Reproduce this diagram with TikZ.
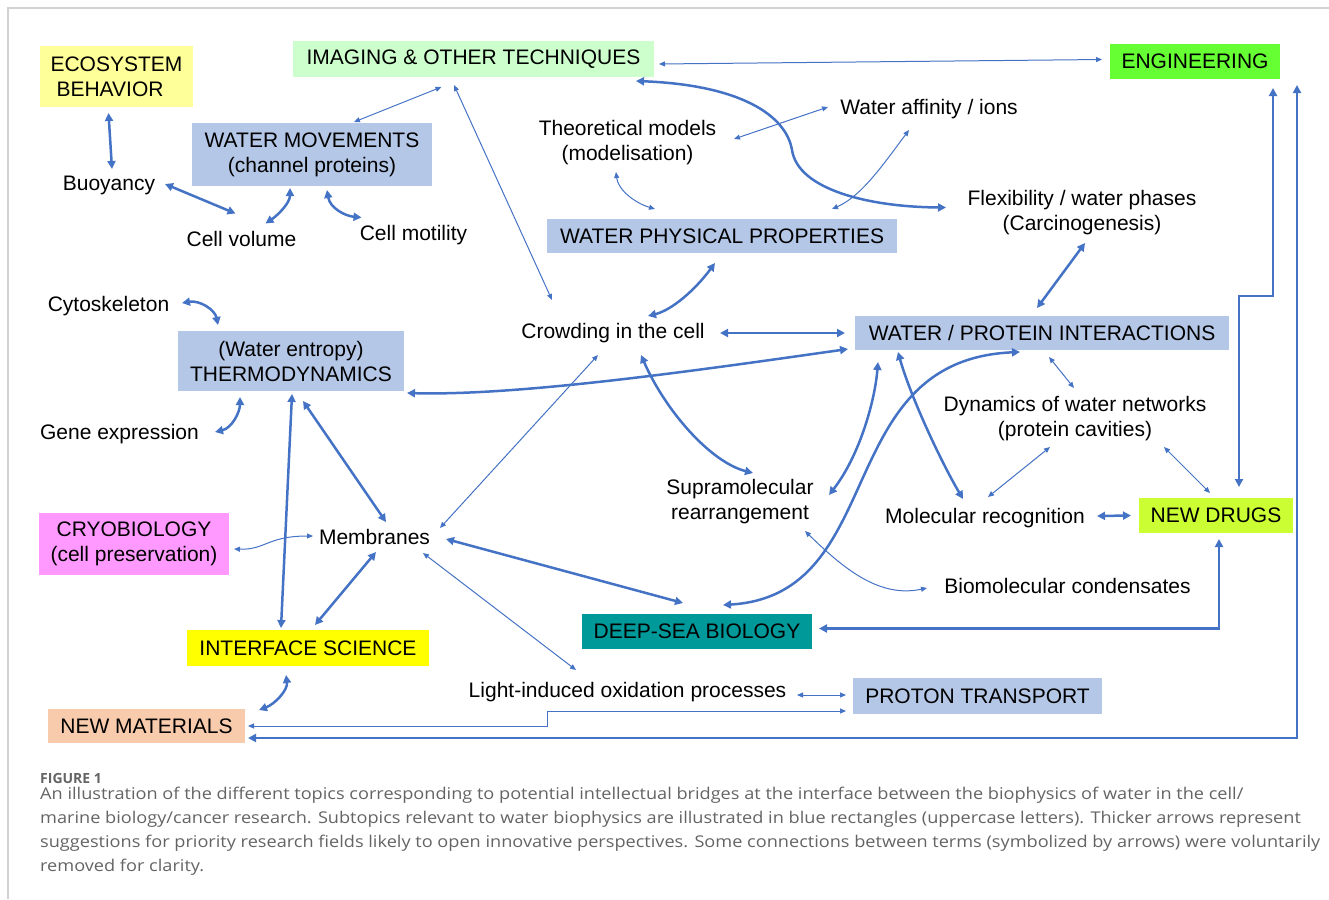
\documentclass[tikz,border=0pt]{standalone}
\usepackage{fontspec}
\setmainfont{Liberation Sans}
\newfontfamily\captionfont{Open Sans}
\newfontfamily\captionwide[FakeStretch=1.12]{Open Sans}
\usetikzlibrary{arrows.meta,calc}
\definecolor{arrowblue}{RGB}{68,114,196}
\definecolor{boxblue}{RGB}{180,199,231}
\definecolor{ecoyellow}{RGB}{255,255,153}
\definecolor{imggreen}{RGB}{204,255,204}
\definecolor{enggreen}{RGB}{102,255,51}
\definecolor{drugsgreen}{RGB}{204,255,51}
\definecolor{cryopink}{RGB}{255,153,255}
\definecolor{seateal}{RGB}{0,153,153}
\definecolor{ifyellow}{RGB}{255,255,0}
\definecolor{matorange}{RGB}{248,203,173}
\definecolor{framegray}{RGB}{210,210,210}
\definecolor{captiongray}{RGB}{100,100,100}
\begin{document}
\begin{tikzpicture}[x=1pt,y=-1pt,
  every node/.style={font=\fontsize{21}{25}\selectfont, inner sep=0pt},
  lbl/.style={text height=15pt, text depth=4pt},
  lbl2/.style={align=center},
  topic/.style={fill=boxblue, align=center},
  fat/.style={draw=arrowblue, line width=2.5pt,
    {Triangle[length=8pt,width=8pt]}-{Triangle[length=8pt,width=8pt]}},
  slim/.style={draw=arrowblue, line width=1pt,
    {Triangle[length=6pt,width=5pt]}-{Triangle[length=6pt,width=5pt]}},
  captext/.style={font=\captionwide\fontsize{16.2}{24}\selectfont, text=captiongray, anchor=base west}]
  \useasboundingbox (0,0) rectangle (1329,899);

  % Draw frame of the figure
  \draw[framegray, line width=1.5pt] (1329,8) -- (8,8) -- (8,899);

  % Draw topic boxes
  \node[topic, fill=ecoyellow, minimum width=153pt, minimum height=61pt, align=left] (eco) at (116.5,76.5) {ECOSYSTEM\\\hspace*{6pt}BEHAVIOR};
  \node[topic, fill=imggreen, minimum width=361pt, minimum height=36pt] (imaging) at (473.5,59) {IMAGING \& OTHER TECHNIQUES};
  \node[topic, fill=enggreen, minimum width=170pt, minimum height=35pt] (eng) at (1195,61.5) {ENGINEERING};
  \node[topic, minimum width=240pt, minimum height=63pt] (wm) at (312,154.5) {WATER MOVEMENTS\\(channel proteins)};
  \node[topic, minimum width=350pt, minimum height=34pt] (wpp) at (722,236) {WATER PHYSICAL PROPERTIES};
  \node[topic, minimum width=374pt, minimum height=34pt] (wpi) at (1042,333) {WATER / PROTEIN INTERACTIONS};
  \node[topic, minimum width=226pt, minimum height=60pt] (thermo) at (291,361) {(Water entropy)\\THERMODYNAMICS};
  \node[topic, fill=drugsgreen, minimum width=154pt, minimum height=35pt] (drugs) at (1216,515.5) {NEW DRUGS};
  \node[topic, fill=cryopink, minimum width=190pt, minimum height=62pt] (cryo) at (134,544) {CRYOBIOLOGY\\(cell preservation)};
  \node[topic, fill=seateal, minimum width=230pt, minimum height=35pt] (deepsea) at (697,631.5) {DEEP-SEA BIOLOGY};
  \node[topic, fill=ifyellow, minimum width=242pt, minimum height=36pt] (iface) at (308,648) {INTERFACE SCIENCE};
  \node[topic, minimum width=249pt, minimum height=36pt] (proton) at (977.5,696) {PROTON TRANSPORT};
  \node[topic, fill=matorange, minimum width=197pt, minimum height=34pt] (newmat) at (146.5,726) {NEW MATERIALS};

  % Draw plain subtopics
  \node[lbl] (buoy) at (109,185) {Buoyancy};
  \node[lbl] (cellvol) at (241.5,241) {Cell volume};
  \node[lbl] (motil) at (413.5,235) {Cell motility};
  \node[lbl2] (theory) at (627.5,142.5) {Theoretical models\\(modelisation)};
  \node[lbl] (affin) at (929,109) {Water affinity / ions};
  \node[lbl2] (flex) at (1082,212.5) {Flexibility / water phases\\(Carcinogenesis)};
  \node[lbl] (cyto) at (108.5,306) {Cytoskeleton};
  \node[lbl] (crowd) at (613,333) {Crowding in the cell};
  \node[lbl] (gene) at (119.5,434) {Gene expression};
  \node[lbl2] (dyn) at (1075,418.5) {Dynamics of water networks\\(protein cavities)};
  \node[lbl2] (supra) at (740,501.5) {Supramolecular\\rearrangement};
  \node[lbl] (molrec) at (985,518) {Molecular recognition};
  \node[lbl] (membr) at (374.5,539) {Membranes};
  \node[lbl] (biocond) at (1067.5,588) {Biomolecular condensates};
  \node[lbl] (light) at (627.5,692) {Light-induced oxidation processes};

  % Draw thick arrows (priority fields)
  \draw[fat] ($(eco)+(-8,36.5)$) -- ($(buoy)+(3,-16)$);
  \draw[fat] ($(buoy)+(56,-1)$) -- ($(cellvol)+(-6,-27.5)$);
  \draw[fat] ($(wm)+(-22,33.5)$) .. controls (290,203) and (278,215) .. ($(cellvol)+(24,-17.5)$);
  \draw[fat] ($(wm)+(15,35.5)$) .. controls (330,208) and (345,216) .. ($(motil)+(-52,-17.5)$);
  \draw[fat] ($(cyto)+(73.5,-3)$) .. controls (200,300) and (215,310) .. ($(thermo)+(-73,-36)$);
  \draw[fat] ($(gene)+(95.5,-2)$) .. controls (232,428) and (240,412) .. ($(thermo)+(-51,36)$);
  \draw[fat] ($(thermo)+(1,33)$) -- ($(iface)+(-27,-20)$);
  \draw[fat] ($(thermo)+(12,40)$) -- ($(membr)+(11.5,-17)$);
  \draw[fat] ($(membr)+(1.5,13)$) -- ($(iface)+(7,-23)$);
  \draw[fat] ($(membr)+(71.5,0)$) -- ($(deepsea)+(-14,-28.5)$);
  \draw[fat] ($(thermo)+(116,32)$) .. controls (520,396) and (700,370) .. ($(wpi)+(-194,16)$);
  \draw[fat] ($(wpp)+(-7,27)$) .. controls (695,290) and (672,310) .. ($(crowd)+(35,-17)$);
  \draw[fat] ($(crowd)+(107,0)$) -- ($(wpi)+(-197,0)$);
  \draw[fat] ($(crowd)+(28,22)$) .. controls (665,410) and (710,462) .. ($(supra)+(13,-28.5)$);
  \draw[fat] ($(flex)+(3,30.5)$) -- ($(wpi)+(-5,-25)$);
  \draw[fat] ($(imaging)+(162.5,22)$) .. controls (740,85) and (786,115) .. (792,150)
    .. controls (798,190) and (870,207) .. ($(flex)+(-136,-5)$);
  \draw[fat] ($(wpi)+(-164,29)$) .. controls (875,400) and (860,455) .. ($(supra)+(89,-6.5)$);
  \draw[fat] ($(wpi)+(-144,19)$) .. controls (910,395) and (940,460) .. ($(molrec)+(-22,-19)$);
  \draw[fat] ($(deepsea)+(26,-26.5)$) .. controls (890,595) and (830,360) .. ($(wpi)+(-22,19)$);
  \draw[fat] ($(molrec)+(112,-2)$) -- ($(drugs)+(-85,0)$);
  \draw[fat] ($(drugs)+(23,-28.5)$) |- ($(eng)+(78,234.5)$) -- ($(eng)+(78,26.5)$);
  \draw[fat] ($(newmat)+(101.5,12)$) -| ($(eng)+(102,23.5)$);
  \draw[fat] ($(drugs)+(3,23.5)$) |- ($(deepsea)+(122,-3)$);
  \draw[fat] ($(iface)+(-22,27)$) .. controls (288,690) and (275,704) .. ($(newmat)+(112.5,-16)$);

  % Draw thin arrows
  \draw[slim] ($(imaging)+(-32,28)$) -- ($(wm)+(42,-32.5)$);
  \draw[slim] ($(imaging)+(-19.5,26)$) -- ($(crowd)+(-61,-33)$);
  \draw[slim] ($(imaging)+(185.5,5)$) -- ($(eng)+(-93,-2)$);
  \draw[slim] ($(theory)+(106.5,-3.5)$) -- ($(affin)+(-101,-2)$);
  \draw[slim] ($(affin)+(-20,21)$) .. controls (885,162) and (862,196) .. ($(wpp)+(110,-27)$);
  \draw[slim] ($(theory)+(-11.5,29.5)$) .. controls (618,190) and (635,203) .. ($(wpp)+(-67,-27)$);
  \draw[slim] ($(crowd)+(-15,22)$) -- ($(membr)+(65.5,-11)$);
  \draw[slim] ($(membr)+(48.5,14)$) -- ($(light)+(-51.5,-22)$);
  \draw[slim] ($(cryo)+(100,5)$) .. controls (265,550) and (268,536) .. ($(membr)+(-61.5,-3)$);
  \draw[slim] ($(wpi)+(7,24)$) -- ($(dyn)+(-1,-30.5)$);
  \draw[slim] ($(dyn)+(-25,28.5)$) -- ($(molrec)+(3,-21)$);
  \draw[slim] ($(dyn)+(89,28.5)$) -- ($(drugs)+(-6,-22.5)$);
  \draw[slim] ($(supra)+(65,29.5)$) .. controls (845,570) and (880,598) .. ($(biocond)+(-140.5,0)$);
  \draw[slim] ($(light)+(169.5,3)$) -- ($(proton)+(-131.5,-1)$);
  \draw[slim] ($(newmat)+(101.5,0)$) -- ++(299,0) |- ($(proton)+(-131.5,15)$);

  % Draw caption
  \node[captext, font=\captionfont\bfseries\fontsize{14}{16}\selectfont] (figlabel) at (40,783) {FIGURE 1};
  \node[captext] (cap1) at (40,799) {An illustration of the different topics corresponding to potential intellectual bridges at the interface between the biophysics of water in the cell/};
  \node[captext] (cap2) at (40,823) {marine biology/cancer research. Subtopics relevant to water biophysics are illustrated in blue rectangles (uppercase letters). Thicker arrows represent};
  \node[captext] (cap3) at (40,847) {suggestions for priority research fields likely to open innovative perspectives. Some connections between terms (symbolized by arrows) were voluntarily};
  \node[captext] (cap4) at (40,871) {removed for clarity.};
\end{tikzpicture}
\end{document}
